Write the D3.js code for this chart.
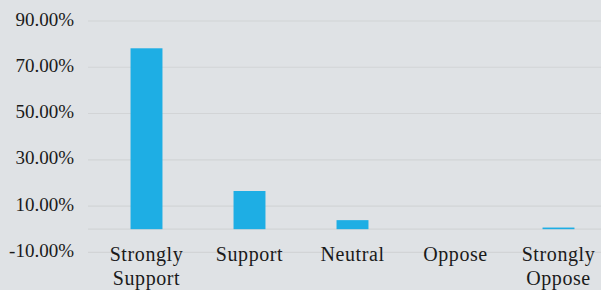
<!DOCTYPE html>
<html><head><meta charset="utf-8">
<script src="https://cdn.jsdelivr.net/npm/d3@7"></script>
<style>body{margin:0;background:#dfe2e5;}svg{display:block;}</style>
</head><body>
<script>
const categories = [["Strongly","Support"],["Support"],["Neutral"],["Oppose"],["Strongly","Oppose"]];
const values = [78.2, 16.5, 3.9, 0, 0.7];
const tickValues = [-10, 10, 30, 50, 70, 90];
const gridValues = [-10, 0, 10, 30, 50, 70, 90];

const W = 601, H = 290;
const svg = d3.select("body").append("svg").attr("width", W).attr("height", H);
svg.append("rect").attr("width", W).attr("height", H).attr("fill", "#dfe2e5");

const y = d3.scaleLinear().domain([-10, 90]).range([252.3, 21]);
const x = d3.scaleBand().domain(d3.range(categories.length)).range([95, 610]).paddingInner(0.69).paddingOuter(0.345);

svg.append("g").selectAll("line").data(gridValues).join("line")
  .attr("x1", 88).attr("x2", W).attr("y1", d => y(d)).attr("y2", d => y(d))
  .attr("stroke", "#d2d4d6").attr("stroke-width", 1.2);

svg.append("g").selectAll("text").data(tickValues).join("text")
  .attr("x", 74).attr("y", d => y(d) + 4.7)
  .attr("text-anchor", "end")
  .attr("font-family", "'Liberation Serif', serif").attr("font-size", 19)
  .attr("fill", "#1a1a1a")
  .text(d => d.toFixed(2) + "%");

svg.append("g").selectAll("rect").data(values).join("rect")
  .attr("x", (d, i) => x(i)).attr("width", x.bandwidth())
  .attr("y", d => y(Math.max(0, d))).attr("height", d => Math.abs(y(d) - y(0)))
  .attr("fill", "#1eaee4");

const lab = svg.append("g").selectAll("text").data(categories).join("text")
  .attr("x", (d, i) => x(i) + x.bandwidth() / 2)
  .attr("y", 261.3)
  .attr("text-anchor", "middle")
  .attr("font-family", "'Liberation Serif', serif").attr("font-size", 20)
  .attr("letter-spacing", 0.6)
  .attr("fill", "#1a1a1a");
lab.each(function(d) {
  const t = d3.select(this);
  d.forEach((line, j) => {
    t.append("tspan").attr("x", t.attr("x")).attr("dy", j === 0 ? 0 : 23.5).text(line);
  });
});
</script>
</body></html>
